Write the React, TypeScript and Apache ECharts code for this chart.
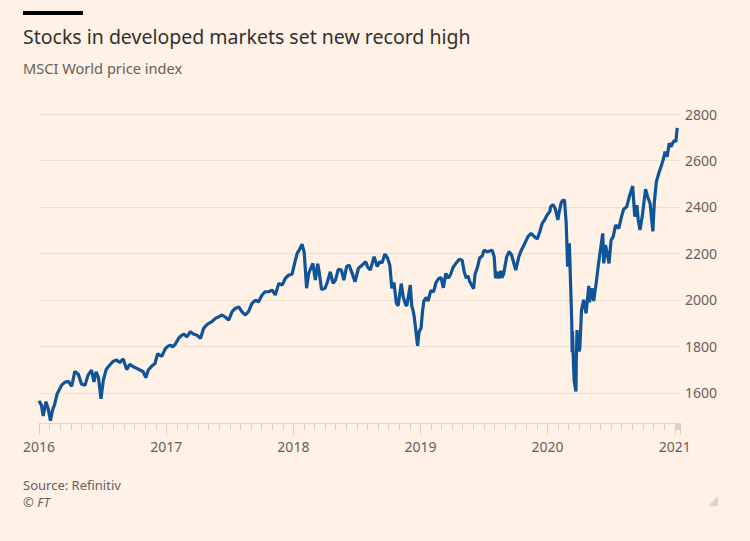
import React, { useEffect, useRef } from "react";
import * as echarts from "echarts";

const titleText = "Stocks in developed markets set new record high";
const subtitleText = "MSCI World price index";
const sourceText = "Source: Refinitiv";
const creditText = "© FT";

const yTicks = { min: 1470, max: 2800, step: 200 };

const points2016: [string, number][] = [
  ["2016-01-01", 1566], ["2016-01-08", 1547], ["2016-01-13", 1500], ["2016-01-21", 1562],
  ["2016-01-27", 1533], ["2016-02-03", 1480], ["2016-02-09", 1526], ["2016-02-15", 1550],
  ["2016-02-22", 1595], ["2016-03-06", 1633], ["2016-03-15", 1645], ["2016-03-25", 1650],
  ["2016-04-04", 1628], ["2016-04-13", 1692], ["2016-04-23", 1680], ["2016-05-02", 1638],
  ["2016-05-12", 1632], ["2016-05-21", 1676], ["2016-05-31", 1698], ["2016-06-07", 1647],
  ["2016-06-13", 1690], ["2016-06-20", 1665], ["2016-06-27", 1574], ["2016-07-04", 1655],
  ["2016-07-12", 1700], ["2016-07-18", 1712], ["2016-08-01", 1736], ["2016-08-11", 1741],
  ["2016-08-20", 1730], ["2016-08-30", 1746], ["2016-09-09", 1700], ["2016-09-18", 1722],
  ["2016-09-28", 1712], ["2016-10-08", 1705], ["2016-10-17", 1698], ["2016-10-26", 1692],
  ["2016-11-03", 1665], ["2016-11-10", 1698], ["2016-11-20", 1715], ["2016-11-29", 1725],
  ["2016-12-07", 1768], ["2016-12-19", 1757], ["2016-12-29", 1790],
];

const points2017: [string, number][] = [
  ["2017-01-05", 1800], ["2017-01-12", 1805], ["2017-01-19", 1798], ["2017-01-26", 1808],
  ["2017-02-05", 1834], ["2017-02-12", 1845], ["2017-02-20", 1853], ["2017-03-01", 1841],
  ["2017-03-11", 1863], ["2017-03-20", 1853], ["2017-03-30", 1848], ["2017-04-09", 1834],
  ["2017-04-18", 1877], ["2017-04-25", 1890], ["2017-05-03", 1899], ["2017-05-12", 1906],
  ["2017-05-22", 1920], ["2017-05-31", 1927], ["2017-06-10", 1935], ["2017-06-20", 1925],
  ["2017-06-29", 1913], ["2017-07-09", 1949], ["2017-07-18", 1963], ["2017-07-28", 1970],
  ["2017-08-06", 1949], ["2017-08-16", 1935], ["2017-08-25", 1949], ["2017-09-04", 1985],
  ["2017-09-14", 1999], ["2017-09-23", 1992], ["2017-10-03", 2021], ["2017-10-12", 2035],
  ["2017-10-22", 2035], ["2017-11-01", 2042], ["2017-11-10", 2021], ["2017-11-20", 2071],
  ["2017-11-30", 2064], ["2017-12-09", 2093], ["2017-12-19", 2107], ["2017-12-28", 2110],
];

const points2018: [string, number][] = [
  ["2018-01-05", 2160], ["2018-01-12", 2200], ["2018-01-19", 2218], ["2018-01-26", 2240],
  ["2018-02-01", 2205], ["2018-02-08", 2050], ["2018-02-14", 2114], ["2018-02-26", 2157],
  ["2018-03-05", 2085], ["2018-03-12", 2155], ["2018-03-16", 2121], ["2018-03-23", 2045],
  ["2018-04-02", 2050], ["2018-04-09", 2078], ["2018-04-17", 2121], ["2018-04-25", 2071],
  ["2018-05-02", 2085], ["2018-05-10", 2131], ["2018-05-19", 2128], ["2018-05-26", 2085],
  ["2018-06-03", 2143], ["2018-06-10", 2150], ["2018-06-19", 2114], ["2018-06-27", 2078],
  ["2018-07-07", 2136], ["2018-07-18", 2150], ["2018-07-28", 2164], ["2018-08-02", 2143],
  ["2018-08-10", 2128], ["2018-08-21", 2186], ["2018-08-30", 2143], ["2018-09-06", 2164],
  ["2018-09-13", 2160], ["2018-09-21", 2197], ["2018-09-28", 2182], ["2018-10-05", 2150],
  ["2018-10-11", 2050], ["2018-10-17", 2075], ["2018-10-24", 1985], ["2018-10-29", 1975],
  ["2018-11-07", 2070], ["2018-11-13", 2010], ["2018-11-20", 1978], ["2018-11-23", 1975],
  ["2018-12-03", 2064], ["2018-12-07", 1975], ["2018-12-10", 1960], ["2018-12-14", 1930],
  ["2018-12-18", 1880], ["2018-12-24", 1802], ["2018-12-28", 1860],
];

const points2019: [string, number][] = [
  ["2019-01-03", 1880], ["2019-01-07", 1950], ["2019-01-11", 1995], ["2019-01-18", 2010],
  ["2019-01-23", 1995], ["2019-01-31", 2040], ["2019-02-08", 2035], ["2019-02-15", 2075],
  ["2019-02-22", 2090], ["2019-03-01", 2097], ["2019-03-08", 2052], ["2019-03-15", 2114],
  ["2019-03-22", 2093], ["2019-03-29", 2110], ["2019-04-05", 2140], ["2019-04-12", 2155],
  ["2019-04-23", 2175], ["2019-05-01", 2170], ["2019-05-07", 2120], ["2019-05-13", 2093],
  ["2019-05-17", 2105], ["2019-05-23", 2078], ["2019-06-03", 2048], ["2019-06-07", 2110],
  ["2019-06-14", 2140], ["2019-06-20", 2179], ["2019-06-28", 2190], ["2019-07-03", 2214],
  ["2019-07-12", 2207], ["2019-07-26", 2214], ["2019-08-01", 2186], ["2019-08-05", 2093],
  ["2019-08-09", 2121], ["2019-08-14", 2093], ["2019-08-20", 2125], ["2019-08-23", 2095],
  ["2019-08-28", 2110], ["2019-09-06", 2186], ["2019-09-13", 2207], ["2019-09-20", 2193],
  ["2019-10-02", 2128], ["2019-10-11", 2186], ["2019-10-18", 2214], ["2019-10-28", 2243],
  ["2019-11-06", 2272], ["2019-11-15", 2286], ["2019-11-22", 2275], ["2019-12-03", 2262],
  ["2019-12-10", 2293], ["2019-12-17", 2329], ["2019-12-24", 2344], ["2019-12-31", 2365],
];

const points2020: [string, number][] = [
  ["2020-01-08", 2380], ["2020-01-10", 2400], ["2020-01-17", 2410], ["2020-01-24", 2390],
  ["2020-01-31", 2344], ["2020-02-04", 2379], ["2020-02-10", 2420], ["2020-02-14", 2428],
  ["2020-02-19", 2430], ["2020-02-24", 2330], ["2020-02-28", 2143], ["2020-03-04", 2243],
  ["2020-03-09", 2000], ["2020-03-11", 1900], ["2020-03-12", 1775], ["2020-03-13", 1865],
  ["2020-03-16", 1720], ["2020-03-18", 1650], ["2020-03-23", 1606], ["2020-03-24", 1740],
  ["2020-03-26", 1870], ["2020-03-27", 1820], ["2020-03-31", 1860], ["2020-04-01", 1778],
  ["2020-04-03", 1790], ["2020-04-06", 1890], ["2020-04-08", 1956], ["2020-04-14", 2000],
  ["2020-04-21", 1942], ["2020-04-29", 2060], ["2020-05-01", 1990], ["2020-05-08", 2050],
  ["2020-05-13", 1995], ["2020-05-20", 2071], ["2020-05-27", 2157], ["2020-06-08", 2286],
  ["2020-06-11", 2157], ["2020-06-16", 2236], ["2020-06-26", 2157], ["2020-07-02", 2257],
  ["2020-07-08", 2272], ["2020-07-15", 2322], ["2020-07-24", 2308], ["2020-08-01", 2358],
  ["2020-08-07", 2390], ["2020-08-16", 2401], ["2020-08-24", 2447], ["2020-09-02", 2490],
  ["2020-09-08", 2358], ["2020-09-14", 2408], ["2020-09-18", 2344], ["2020-09-23", 2301],
  ["2020-09-30", 2365], ["2020-10-09", 2476], ["2020-10-15", 2444], ["2020-10-22", 2415],
  ["2020-10-30", 2295], ["2020-11-03", 2415], ["2020-11-09", 2508], ["2020-11-16", 2545],
  ["2020-11-24", 2580], ["2020-12-01", 2616], ["2020-12-04", 2638], ["2020-12-10", 2616],
  ["2020-12-16", 2674], ["2020-12-21", 2659], ["2020-12-28", 2681], ["2020-12-31", 2685],
];

const points2021: [string, number][] = [
  ["2021-01-04", 2680], ["2021-01-08", 2740],
];

const xRange = { min: "2016-01-01", max: "2021-01-16" };

const YEAR_MS = 365.25 * 24 * 3600 * 1000;
const FONT = '"Noto Sans", "DejaVu Sans", sans-serif';

export default function App() {
  const ref = useRef<HTMLDivElement>(null);

  useEffect(() => {
    if (!ref.current) return;
    const chart = echarts.init(ref.current, undefined, { renderer: "svg" });
    const data = [
      ...points2016, ...points2017, ...points2018,
      ...points2019, ...points2020, ...points2021,
    ];
    chart.setOption({
      animation: false,
      backgroundColor: "#fff1e5",
      grid: { left: 39, right: 70, top: 114, bottom: 118, containLabel: false },
      xAxis: {
        type: "time",
        min: xRange.min,
        max: xRange.max,
        splitNumber: 5,
        minInterval: YEAR_MS,
        maxInterval: YEAR_MS,
        axisLine: { show: true, lineStyle: { color: "#e3d8ce", width: 1 } },
        axisTick: { show: true, length: 12, lineStyle: { color: "#dcd1c7" } },
        minorTick: { show: true, splitNumber: 12, length: 7, lineStyle: { color: "#dcd1c7" } },
        axisLabel: {
          color: "#66605c",
          fontSize: 14,
          fontFamily: FONT,
          margin: 16,
          formatter: (v: number) => String(new Date(v).getFullYear()),
        },
        splitLine: { show: false },
      },
      yAxis: {
        type: "value",
        position: "right",
        min: yTicks.min,
        max: yTicks.max,
        splitNumber: 7,
        minInterval: yTicks.step,
        maxInterval: yTicks.step,
        axisLine: { show: false },
        axisTick: { show: false },
        axisLabel: {
          color: "#66605c",
          fontSize: 14,
          fontFamily: FONT,
          margin: 5,
          showMinLabel: false,
          formatter: (v: number) => String(v),
        },
        splitLine: { show: true, lineStyle: { color: "#ebdfd4", width: 1 } },
      },
      series: [
        {
          type: "line",
          data,
          showSymbol: false,
          symbol: "none",
          lineStyle: { color: "#0f5499", width: 3.2 },
          z: 5,
        },
      ],
      graphic: [
        { type: "rect", shape: { x: 23, y: 11, width: 60, height: 4 }, style: { fill: "#000000" } },
        {
          type: "text", x: 23, y: 36,
          style: { text: titleText, font: `19.5px ${FONT}`, fill: "#33302e", textVerticalAlign: "middle", verticalAlign: "middle" },
        },
        {
          type: "text", x: 23, y: 68,
          style: { text: subtitleText, font: `14.6px ${FONT}`, fill: "#66605c", textVerticalAlign: "middle", verticalAlign: "middle" },
        },
        {
          type: "text", x: 23, y: 485,
          style: { text: sourceText, font: `13px ${FONT}`, fill: "#66605c", textVerticalAlign: "middle", verticalAlign: "middle" },
        },
        {
          type: "text", x: 23, y: 502,
          style: { text: creditText, font: `italic 13px ${FONT}`, fill: "#66605c", textVerticalAlign: "middle", verticalAlign: "middle" },
        },
        {
          type: "polygon",
          shape: { points: [[718, 496], [718, 506], [708, 506]] },
          style: { fill: "#ddd3ca" },
        },
      ],
    });
    return () => chart.dispose();
  }, []);

  return (
    <div
      ref={ref}
      style={{ position: "fixed", left: 0, top: 0, width: 750, height: 541 }}
    />
  );
}
